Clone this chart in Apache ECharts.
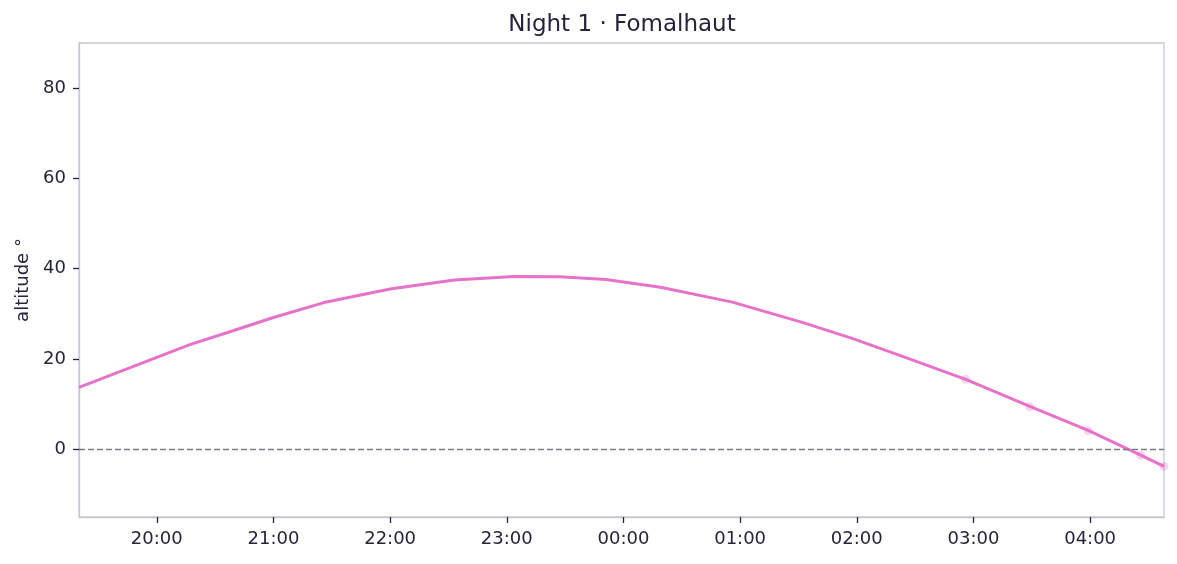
<!DOCTYPE html>
<html>
<head>
    <meta charset="utf-8" />
    <title>Night 1 · Fomalhaut</title>
    <script src="https://cdn.jsdelivr.net/npm/echarts@6/dist/echarts.min.js"></script>
    <style>
        html, body { margin: 0; padding: 0; background: #fff; }
    </style>
</head>
<body>
<div id="main" style="width:1177px;height:564px;"></div>

<script type="text/javascript">
    // altitude track of the target over the night (local time)
    var times    = ['19:20', '20:17', '20:38', '21:00', '21:26', '22:00', '22:33', '23:04', '23:27', '23:51',
                    '00:19', '00:56', '01:32', '01:58', '02:26', '02:56', '03:29', '03:59', '04:26', '04:38'];
    var altitude = [13.7, 23.2, 26.1, 29.2, 32.5, 35.5, 37.5, 38.3, 38.2, 37.6,
                    35.9, 32.6, 28.1, 24.5, 20.2, 15.5, 9.5, 4.2, -1.3, -3.8];

    // observed samples (faint dots)
    var obsTimes = ['02:56', '03:29', '03:59', '04:26', '04:38'];
    var obsAlt   = [15.5, 9.4, 4.1, -1.3, -3.8];

    var hourTicks = [20, 21, 22, 23, 24, 25, 26, 27, 28];
    var altTicks  = [0, 20, 40, 60, 80];

    // "HH:MM" -> hours, with after-midnight times pushed past 24
    function toHours(s) {
        var p = s.split(':');
        var h = parseInt(p[0], 10), m = parseInt(p[1], 10);
        if (h < 12) h += 24;
        return h + m / 60;
    }

    var lineData = times.map(function (t, i) { return [toHours(t), altitude[i]]; });
    var obsData  = obsTimes.map(function (t, i) { return [toHours(t), obsAlt[i]]; });

    var font = 'DejaVu Sans';
    var ink = '#24243a';
    var frame = '#c6c8d6';

    var myChart = echarts.init(document.getElementById('main'));
    var option = {
        animation: false,
        title: {
            // centred over the plot area, not the whole canvas
            text: 'Night 1 · Fomalhaut',
            left: 617,
            textAlign: 'center',
            top: 9,
            textStyle: { fontFamily: font, fontSize: 23, fontWeight: 'normal', color: ink }
        },
        grid: {
            left: 79, right: 13, top: 43, bottom: 47,
            show: true, borderColor: frame, borderWidth: 1.3, backgroundColor: 'transparent'
        },
        xAxis: {
            type: 'value',
            min: toHours(times[0]),
            max: toHours(times[times.length - 1]),
            splitLine: { show: false },
            axisLine: { show: true, onZero: false, lineStyle: { color: frame, width: 1.3 } },
            axisTick: {
                show: true, length: 6, customValues: hourTicks,
                lineStyle: { color: ink, width: 1.3 }
            },
            axisLabel: {
                customValues: hourTicks,
                margin: 13,
                fontFamily: font, fontSize: 18, color: ink,
                formatter: function (v) {
                    var h = Math.round(v) % 24;
                    return (h < 10 ? '0' : '') + h + ':00';
                }
            }
        },
        yAxis: {
            type: 'value',
            min: -15,
            max: 90,
            name: 'altitude °',
            nameLocation: 'middle',
            nameGap: 47,
            nameTextStyle: { fontFamily: font, fontSize: 18, color: ink },
            splitLine: { show: false },
            axisLine: { show: true, lineStyle: { color: frame, width: 1.3 } },
            axisTick: {
                show: true, length: 6, customValues: altTicks,
                lineStyle: { color: ink, width: 1.3 }
            },
            axisLabel: {
                customValues: altTicks,
                margin: 13,
                fontFamily: font, fontSize: 18, color: ink
            }
        },
        series: [
            {
                name: 'altitude',
                type: 'line',
                data: lineData,
                showSymbol: false,
                smooth: false,
                lineStyle: { color: '#e672c9', width: 3 },
                z: 3,
                markLine: {
                    silent: true,
                    symbol: ['none', 'none'],
                    label: { show: false },
                    lineStyle: { color: '#77778f', type: [6, 3], width: 1.3 },
                    data: [{ yAxis: 0 }]
                }
            },
            {
                name: 'observed',
                type: 'scatter',
                data: obsData,
                symbolSize: 9,
                itemStyle: { color: '#e672c9', opacity: 0.3 },
                z: 2
            }
        ]
    };

    myChart.setOption(option);
</script>
</body>
</html>
